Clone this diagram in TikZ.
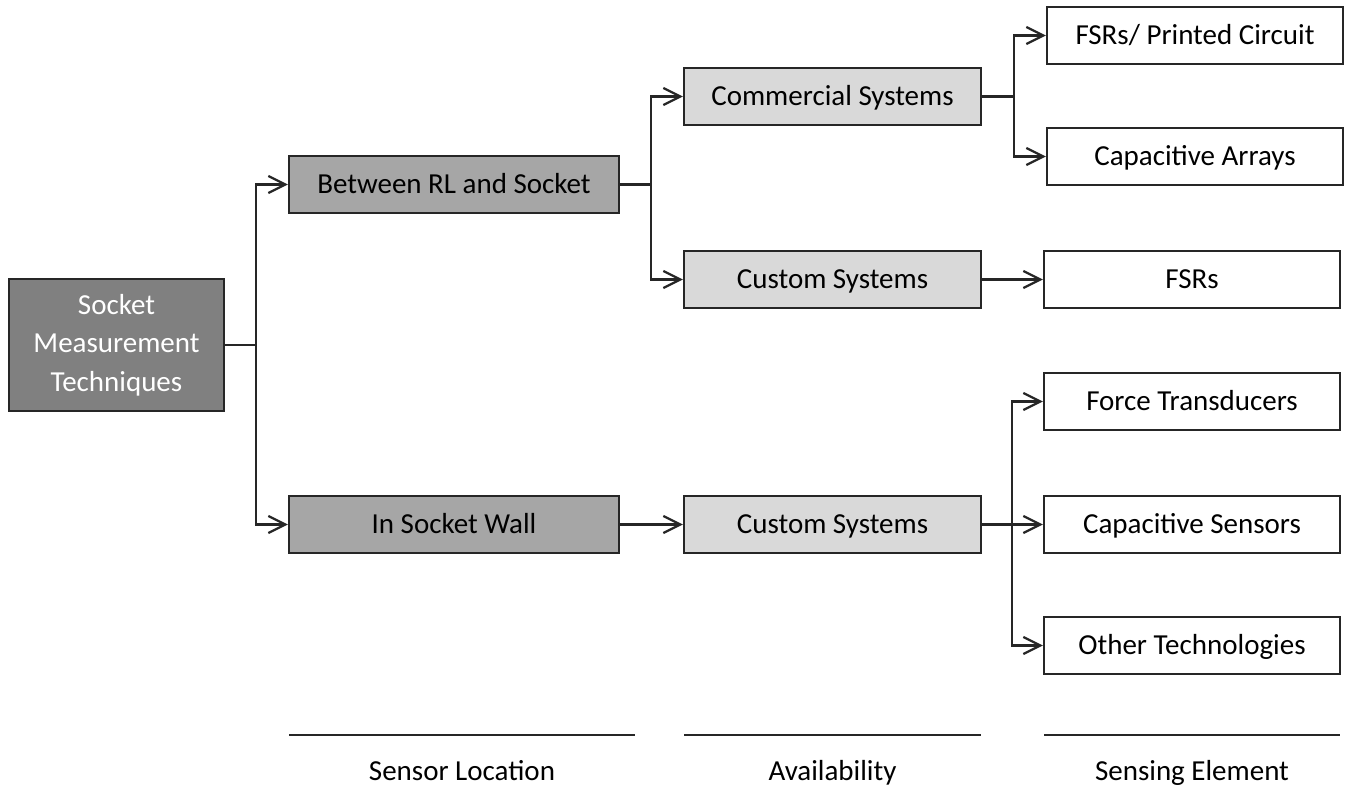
\documentclass[tikz,border=0pt]{standalone}
\usepackage{fontspec}
\setmainfont{Carlito}
\usetikzlibrary{arrows.meta}

\begin{document}
\begin{tikzpicture}[x=0.02cm,y=-0.02cm,
	box/.style={draw=black!85,line width=1.3pt,minimum height=1.14cm,inner sep=0pt,
		text height=10.6pt,text depth=0pt,font=\fontsize{16.5}{22}\selectfont},
	rootbox/.style={box,fill=black!50,text=white,minimum width=4.3cm,minimum height=2.64cm,
		align=center,text height=,text depth=},
	locbox/.style={box,fill=black!35,minimum width=6.6cm},
	availbox/.style={box,fill=black!15,minimum width=5.94cm},
	elembox/.style={box,fill=white,minimum width=5.92cm},
	link/.style={draw=black!85,line width=1.3pt},
	arr/.style={link,-{Straight Barb[length=3.4mm,width=3.4mm,line width=1.3pt]}},
	caption/.style={anchor=base,font=\fontsize{16.5}{22}\selectfont}]
	\useasboundingbox (0,0) rectangle (1354,792);
	% boxes
	\node[rootbox] (root) at (116.5,345) {Socket\\Measurement\\Techniques};
	\node[locbox] (btw) at (454,184.5) {Between RL and Socket};
	\node[locbox] (wall) at (454,524.5) {In Socket Wall};
	\node[availbox] (comm) at (832.5,96.5) {Commercial Systems};
	\node[availbox] (custA) at (832.5,279.5) {Custom Systems};
	\node[availbox] (custB) at (832.5,524.5) {Custom Systems};
	\node[elembox] (fsrpc) at (1195,35.5) {FSRs/ Printed Circuit};
	\node[elembox] (caparr) at (1195,156.5) {Capacitive Arrays};
	\node[elembox] (fsrs) at (1192,279.5) {FSRs};
	\node[elembox] (force) at (1192,401.5) {Force Transducers};
	\node[elembox] (capsens) at (1192,524.5) {Capacitive Sensors};
	\node[elembox] (other) at (1192,645.5) {Other Technologies};
	% branch points
	\coordinate (j0) at (256,345);
	\coordinate (j1) at (651,184.5);
	\coordinate (j2) at (1014,96.5);
	\coordinate (j3) at (1012,524.5);
	% connectors
	\draw[link] (root.east) -- (j0);
	\draw[arr] (j0) |- (btw.west);
	\draw[arr] (j0) |- (wall.west);
	\draw[link] (btw.east) -- (j1);
	\draw[arr] (j1) |- (comm.west);
	\draw[arr] (j1) |- (custA.west);
	\draw[link] (comm.east) -- (j2);
	\draw[arr] (j2) |- (fsrpc.west);
	\draw[arr] (j2) |- (caparr.west);
	\draw[arr] (custA.east) -- (fsrs.west);
	\draw[arr] (wall.east) -- (custB.west);
	\draw[link] (custB.east) -- (j3);
	\draw[arr] (j3) |- (force.west);
	\draw[arr] (j3) -- (capsens.west);
	\draw[arr] (j3) |- (other.west);
	% column captions
	\draw[link] (289,735) -- (635,735);
	\draw[link] (684,735) -- (981,735);
	\draw[link] (1044,735) -- (1340,735);
	\node[caption] (loc) at (462,780) {Sensor Location};
	\node[caption] (avail) at (832.5,780) {Availability};
	\node[caption] (elem) at (1192,780) {Sensing Element};
\end{tikzpicture}
\end{document}
